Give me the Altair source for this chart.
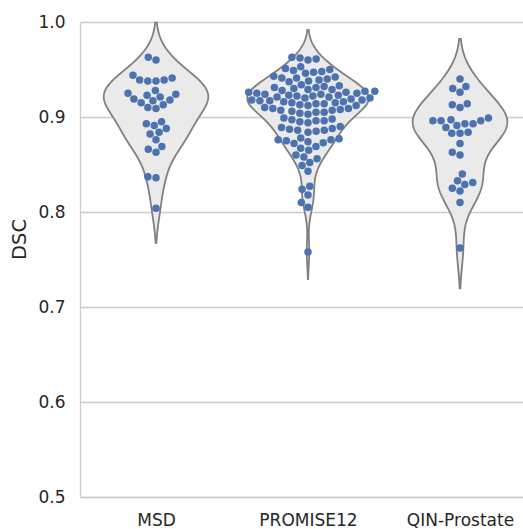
import altair as alt
import numpy as np
import pandas as pd

categories = ["MSD", "PROMISE12", "QIN-Prostate"]

msd = [0.963, 0.960,
       0.944, 0.941, 0.939, 0.939, 0.938, 0.938,
       0.928, 0.925, 0.924, 0.923, 0.921, 0.919, 0.918, 0.917, 0.915, 0.913, 0.910, 0.909,
       0.895, 0.893, 0.891, 0.888, 0.884, 0.882, 0.876, 0.869, 0.866, 0.863,
       0.837, 0.836,
       0.804]

promise12 = [0.963, 0.962, 0.961, 0.960,
             0.953, 0.951, 0.950, 0.949, 0.948, 0.947, 0.946,
             0.943, 0.942, 0.941, 0.941, 0.940, 0.939, 0.938, 0.937,
             0.934, 0.933, 0.932, 0.931, 0.931, 0.930, 0.929, 0.929, 0.928, 0.927,
             0.927, 0.926, 0.926, 0.925, 0.925, 0.924, 0.924, 0.923, 0.923, 0.922, 0.922, 0.921, 0.921, 0.920, 0.920,
             0.919, 0.918, 0.918, 0.917, 0.917, 0.916, 0.916, 0.915, 0.915, 0.914, 0.914, 0.913, 0.912, 0.912,
             0.910, 0.909, 0.909, 0.908, 0.907, 0.907, 0.906, 0.905, 0.905, 0.904, 0.903,
             0.899, 0.898, 0.897, 0.896, 0.896, 0.895, 0.894,
             0.890, 0.889, 0.888, 0.887, 0.886, 0.886, 0.885, 0.884,
             0.878, 0.877, 0.876, 0.876, 0.875, 0.874, 0.873, 0.872,
             0.869, 0.867, 0.865,
             0.860, 0.858, 0.856,
             0.852, 0.849,
             0.843,
             0.827, 0.824,
             0.818, 0.810, 0.805,
             0.758]

qin = [0.940, 0.932, 0.930, 0.926,
       0.914, 0.913, 0.910,
       0.899, 0.897, 0.896, 0.896, 0.896, 0.893, 0.893, 0.891, 0.889, 0.884, 0.883, 0.883,
       0.872, 0.863, 0.860,
       0.840, 0.833, 0.831, 0.829, 0.825, 0.822, 0.810,
       0.762]

series = [msd, promise12, qin]

# layout constants (style)
PX_PER_X = 152.0
PLOT_W = 443
PLOT_H = 475
PX_PER_Y = PLOT_H / 0.5
DOT_D = 8.2
TEXT = "#262626"
GRID = "#cccccc"

x_scale = alt.Scale(domain=[-0.5, -0.5 + PLOT_W / PX_PER_X], nice=False, zero=False)
y_scale = alt.Scale(domain=[0.5, 1.0], nice=False, zero=False)


def scott_bw(v):
    v = np.asarray(v)
    return float(np.std(v, ddof=1) * len(v) ** (-0.2))


def kde_peak(v, bw):
    v = np.asarray(v)
    g = np.linspace(v.min() - 2 * bw, v.max() + 2 * bw, 600)
    d = np.exp(-0.5 * ((g[:, None] - v[None, :]) / bw) ** 2).sum(1) / (len(v) * bw * np.sqrt(2 * np.pi))
    return float(d.max())


def swarm(vals, d):
    ys = np.asarray(vals) * PX_PER_Y
    order = np.argsort(ys, kind="stable")
    placed = []
    offs = np.zeros(len(ys))
    for i in order:
        y = ys[i]
        neigh = [(px, py) for px, py in placed if abs(py - y) < d]
        cands = [0.0]
        for px, py in neigh:
            dx = np.sqrt(max(d * d - (py - y) ** 2, 0.0))
            cands += [px - dx, px + dx]
        cands = sorted(cands, key=lambda c: (round(abs(c), 6), c))
        x = cands[-1]
        for c in cands:
            if all((c - px) ** 2 + (y - py) ** 2 >= d * d - 1e-6 for px, py in neigh):
                x = c
                break
        offs[i] = x
        placed.append((x, y))
    return offs


bws = [scott_bw(v) for v in series]
peak = max(kde_peak(v, b) for v, b in zip(series, bws))
k = 0.4 / peak

layers = []
point_frames = []
for i, (name, vals) in enumerate(zip(categories, series)):
    bw = bws[i]
    lo, hi = min(vals) - 2 * bw, max(vals) + 2 * bw
    df = pd.DataFrame({"cat": name, "dsc": vals})
    violin = (
        alt.Chart(df)
        .transform_density("dsc", as_=["dsc", "density"], bandwidth=bw, extent=[lo, hi], steps=200)
        .transform_calculate(left=f"{i} - datum.density * {k}", right=f"{i} + datum.density * {k}")
        .mark_area(orient="horizontal", fill="#eaeaea", stroke="#808080", strokeWidth=1.8)
        .encode(
            y=alt.Y("dsc:Q", scale=y_scale),
            x=alt.X("left:Q", scale=x_scale),
            x2="right:Q",
        )
    )
    layers.append(violin)
    offs = swarm(vals, DOT_D)
    point_frames.append(pd.DataFrame({"cat": name, "dsc": vals, "pos": i + offs / PX_PER_X}))

pts = pd.concat(point_frames, ignore_index=True)
label_expr = "[" + ",".join(f"'{c}'" for c in categories) + "][datum.value]"

points = (
    alt.Chart(pts)
    .mark_circle(size=56, color="#4c72b0", opacity=1)
    .encode(
        x=alt.X(
            "pos:Q",
            scale=x_scale,
            axis=alt.Axis(
                values=[0, 1, 2], labelExpr=label_expr, grid=False, ticks=False,
                title=None, domainColor=GRID, domainWidth=1.3, labelPadding=15,
                labelFontSize=17, labelColor=TEXT, labelFont="DejaVu Sans",
            ),
        ),
        y=alt.Y(
            "dsc:Q",
            scale=y_scale,
            axis=alt.Axis(
                values=[0.5, 0.6, 0.7, 0.8, 0.9, 1.0], format=".1f", grid=True,
                gridColor=GRID, gridWidth=1.3, ticks=False, domainColor=GRID, domainWidth=1.3,
                labelPadding=15, labelFontSize=17, labelColor=TEXT, labelFont="DejaVu Sans",
                title="DSC", titleFontSize=19.5, titleFont="DejaVu Sans", titleColor=TEXT,
                titleFontWeight="normal", titleAngle=270, titleAlign="center",
                titleBaseline="middle", titleAnchor="start", titleX=-61, titleY=217,
            ),
        ),
    )
)

chart = (
    alt.layer(*layers, points)
    .properties(
        width=PLOT_W, height=PLOT_H,
        autosize=alt.AutoSizeParams(type="none"),
        padding={"left": 80, "top": 22, "right": 0, "bottom": 32},
        background="white",
    )
    .configure_view(stroke=None)
)

chart.save("out.html", embed_options={"renderer": "svg", "actions": False})
